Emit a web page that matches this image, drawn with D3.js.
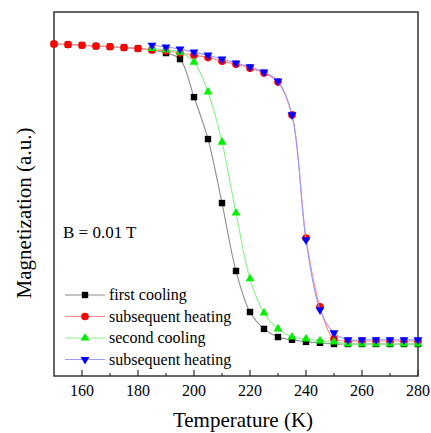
<!DOCTYPE html>
<html lang="en">
<head>
    <meta charset="UTF-8">
    <title>Magnetization vs Temperature</title>
    <style>
        body {
            margin: 0;
            padding: 0;
            background-color: #fff;
        }
    </style>
</head>
<body>
<div id="chart"></div>

<script src="https://d3js.org/d3.v7.min.js"></script>
<script>
    // temperatures (K)
    const tempsFull = [150, 155, 160, 165, 170, 175, 180, 185, 190, 195, 200, 205, 210, 215,
        220, 225, 230, 235, 240, 245, 250, 255, 260, 265, 270, 275, 280];
    const tempsLate = tempsFull.slice(7); // 185 .. 280

    // magnetization, a.u. (normalised)
    const firstCooling = [0.997, 0.995, 0.993, 0.990, 0.988, 0.985, 0.982, 0.977, 0.967, 0.947,
        0.821, 0.682, 0.470, 0.245, 0.109, 0.053, 0.026, 0.017, 0.010, 0.007, 0.003,
        0.003, 0.003, 0.003, 0.003, 0.003, 0.003];
    const firstHeating = [0.997, 0.995, 0.993, 0.990, 0.988, 0.985, 0.982, 0.977, 0.974, 0.967,
        0.960, 0.952, 0.940, 0.930, 0.917, 0.901, 0.871, 0.762, 0.354, 0.126, 0.020,
        0.013, 0.013, 0.013, 0.013, 0.013, 0.013];
    const secondCooling = [0.982, 0.977, 0.970, 0.937, 0.838, 0.672, 0.437, 0.219, 0.106, 0.053,
        0.026, 0.020, 0.013, 0.010, 0.003, 0.003, 0.003, 0.003, 0.003, 0.003];
    const secondHeating = [0.993, 0.987, 0.980, 0.970, 0.960, 0.947, 0.934, 0.921, 0.904, 0.874,
        0.762, 0.348, 0.116, 0.040, 0.017, 0.017, 0.017, 0.017, 0.017, 0.017];

    const seriesNames = ["first cooling", "subsequent heating", "second cooling", "subsequent heating"];
    const xTicks = [160, 180, 200, 220, 240, 260, 280];

    const FONT = "'Liberation Serif', serif";

    const series = [
        {name: seriesNames[0], t: tempsFull, m: firstCooling, line: "#8c8c8c", fill: "#000000", shape: "square"},
        {name: seriesNames[1], t: tempsFull, m: firstHeating, line: "#ff8a8a", fill: "#ff0000", shape: "circle"},
        {name: seriesNames[2], t: tempsLate, m: secondCooling, line: "#8cf08c", fill: "#00f000", shape: "up"},
        {name: seriesNames[3], t: tempsLate, m: secondHeating, line: "#9a9aff", fill: "#0000ff", shape: "down"}
    ];

    const width = 431;
    const height = 433;
    const plot = {left: 54, right: 418, top: 12, bottom: 376};

    const svg = d3.select("#chart")
        .append("svg")
        .attr("width", width)
        .attr("height", height)
        .style("font-family", FONT);

    const x = d3.scaleLinear().domain([150, 280]).range([plot.left, plot.right]);
    const y = d3.scaleLinear().domain([-0.103, 1.103]).range([plot.bottom, plot.top]);

    // small helper so every label gets the serif face as an inline style
    function label(sel, size) {
        return sel.style("font-family", FONT).style("font-size", size + "px").attr("fill", "#000");
    }

    // frame
    svg.append("rect")
        .attr("x", plot.left)
        .attr("y", plot.top)
        .attr("width", plot.right - plot.left)
        .attr("height", plot.bottom - plot.top)
        .attr("fill", "none")
        .attr("stroke", "#333")
        .attr("stroke-width", 1.5);

    // bottom axis, ticks pointing inwards
    const minorTicks = d3.range(170, 280, 20);
    svg.append("g")
        .selectAll("line")
        .data(xTicks)
        .enter().append("line")
        .attr("x1", d => x(d)).attr("x2", d => x(d))
        .attr("y1", plot.bottom).attr("y2", plot.bottom - 6)
        .attr("stroke", "#333").attr("stroke-width", 1.2);
    svg.append("g")
        .selectAll("line")
        .data(minorTicks)
        .enter().append("line")
        .attr("x1", d => x(d)).attr("x2", d => x(d))
        .attr("y1", plot.bottom).attr("y2", plot.bottom - 3)
        .attr("stroke", "#333").attr("stroke-width", 1.2);
    label(svg.append("g")
        .selectAll("text")
        .data(xTicks)
        .enter().append("text")
        .attr("x", d => x(d))
        .attr("y", 396)
        .attr("text-anchor", "middle")
        .text(d => d), 16);

    label(svg.append("text")
        .attr("x", (plot.left + plot.right) / 2 + 7)
        .attr("y", 427)
        .attr("text-anchor", "middle")
        .text("Temperature (K)"), 21);

    label(svg.append("text")
        .attr("transform", "translate(31,213) rotate(-90)")
        .attr("text-anchor", "middle")
        .text("Magnetization (a.u.)"), 21);

    // markers
    function drawMarker(g, shape, fill, cx, cy) {
        if (shape === "square") {
            g.append("rect").attr("x", cx - 3.2).attr("y", cy - 3.2)
                .attr("width", 6.4).attr("height", 6.4).attr("fill", fill);
        } else if (shape === "circle") {
            g.append("circle").attr("cx", cx).attr("cy", cy).attr("r", 3.8).attr("fill", fill);
        } else {
            const sym = d3.symbol().type(d3.symbolTriangle).size(34);
            g.append("path")
                .attr("d", sym())
                .attr("transform", "translate(" + cx + "," + cy + ")" + (shape === "down" ? " rotate(180)" : ""))
                .attr("fill", fill);
        }
    }

    const line = d3.line()
        .x(d => x(d[0]))
        .y(d => y(d[1]))
        .curve(d3.curveCatmullRom);

    series.forEach(function (s) {
        const pts = s.t.map((t, i) => [t, s.m[i]]);
        const g = svg.append("g");
        g.append("path")
            .datum(pts)
            .attr("d", line)
            .attr("fill", "none")
            .attr("stroke", s.line)
            .attr("stroke-width", 1.1);
        pts.forEach(p => drawMarker(g, s.shape, s.fill, x(p[0]), y(p[1])));
    });

    // annotation
    label(svg.append("text")
        .attr("x", 63)
        .attr("y", 238)
        .text("B = 0.01 T"), 17);

    // legend
    const legend = svg.append("g");
    series.forEach(function (s, i) {
        const ly = 295 + i * 21.5;
        legend.append("line")
            .attr("x1", 65).attr("x2", 105)
            .attr("y1", ly).attr("y2", ly)
            .attr("stroke", s.line).attr("stroke-width", 1.1);
        drawMarker(legend, s.shape, s.fill, 85, ly);
        label(legend.append("text")
            .attr("x", 109)
            .attr("y", ly + 5)
            .text(s.name), 16);
    });
</script>
</body>
</html>
